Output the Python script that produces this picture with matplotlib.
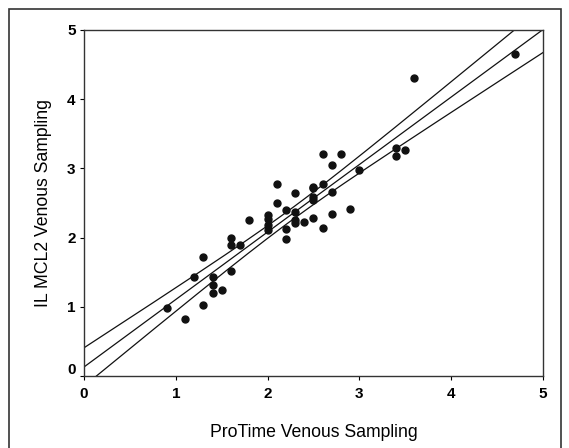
import numpy as np
import matplotlib.pyplot as plt
import matplotlib.transforms as mtransforms
from matplotlib.patches import Rectangle

plt.rcParams['font.family'] = ['Liberation Sans', 'DejaVu Sans']

# ProTime vs IL MCL2 venous sampling
protime = [0.9, 1.1, 1.2, 1.3, 1.3, 1.4, 1.4, 1.4, 1.5, 1.6, 1.6, 1.6, 1.7, 1.8,
           2.0, 2.0, 2.0, 2.0, 2.1, 2.1, 2.2, 2.2, 2.2, 2.3, 2.3, 2.3, 2.3, 2.4,
           2.5, 2.5, 2.5, 2.5, 2.5, 2.6, 2.6, 2.6, 2.7, 2.7, 2.7, 2.8, 2.9, 3.0,
           3.4, 3.4, 3.5, 3.6, 4.7]
ilmcl2 = [0.98, 0.82, 1.43, 1.72, 1.02, 1.43, 1.32, 1.20, 1.24, 2.00, 1.89, 1.52, 1.90, 2.25,
          2.33, 2.27, 2.18, 2.11, 2.78, 2.50, 2.40, 2.12, 1.98, 2.64, 2.37, 2.26, 2.21, 2.23,
          2.73, 2.71, 2.58, 2.54, 2.28, 3.21, 2.77, 2.14, 3.05, 2.66, 2.34, 3.21, 2.42, 2.97,
          3.30, 3.18, 3.26, 4.31, 4.65]
ticks = [0, 1, 2, 3, 4, 5]

x = np.array(protime)
y = np.array(ilmcl2)
n = len(x)
slope, icpt = np.polyfit(x, y, 1)
resid = y - (icpt + slope * x)
s = np.sqrt(np.sum(resid ** 2) / (n - 2))
t = 2.014  # t(0.975, 45)
xs = np.linspace(0, 5, 200)
fit = icpt + slope * xs
half = t * s * np.sqrt(1 / n + (xs - x.mean()) ** 2 / np.sum((x - x.mean()) ** 2))

fig = plt.figure(figsize=(5.69, 4.48), dpi=100)
ax = fig.add_axes([84 / 569, 1 - 376 / 448, 459 / 569, 346 / 448])

# outer frame around the panel
fig.patches.append(Rectangle((9 / 569, -0.05), 552 / 569, 1.05 - 9 / 448,
                             transform=fig.transFigure, fill=False,
                             edgecolor='#333333', linewidth=1.2))

ax.scatter(x, y, s=25, color='#111111', zorder=3)
for yy in (fit, fit + half, fit - half):
    ax.plot(xs, yy, color='#111111', linewidth=0.9)

ax.set_xlim(0, 5)
ax.set_ylim(0, 5)
ax.set_xticks(ticks)
ax.set_yticks(ticks)
ax.tick_params(direction='out', length=3, width=0.8, labelsize=11, pad=3)
ax.tick_params(axis='x', pad=5)
for lab in ax.get_xticklabels() + ax.get_yticklabels():
    lab.set_fontweight('bold')
# y "0" label sits a little above the corner
ylab0 = ax.get_yticklabels()[0]
ylab0.set_transform(ylab0.get_transform() +
                    mtransforms.ScaledTranslation(0, 8 / 100, fig.dpi_scale_trans))

for sp in ax.spines.values():
    sp.set_color('#333333')
    sp.set_linewidth(1.0)

ax.set_xlabel('ProTime Venous Sampling', fontsize=12.7)
ax.set_ylabel('IL MCL2 Venous Sampling', fontsize=12.7)
ax.xaxis.set_label_coords(0.5, (376 - 432) / 346)
ax.xaxis.label.set_va('center')
ax.yaxis.set_label_coords((43 - 84) / 459, 0.5)
ax.yaxis.label.set_va('center')

fig.savefig('out.png', dpi=100)
